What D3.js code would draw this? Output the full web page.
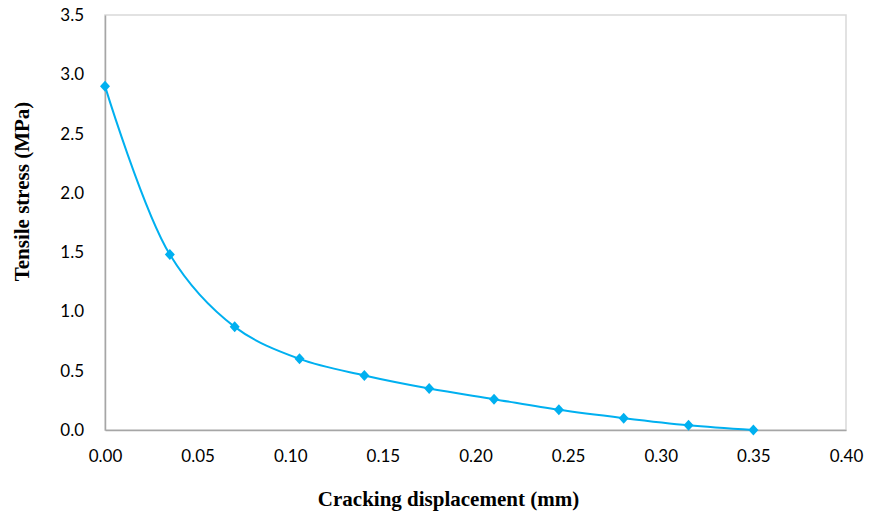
<!DOCTYPE html>
<meta charset="utf-8">
<style>
body { margin: 0; background: #fff; }
.tick text { font-family: Lato, "Open Sans", sans-serif; font-size: 17px; fill: #000; }
.title { font-family: "Liberation Serif", "Times New Roman", serif; font-weight: bold; font-size: 21px; }
.line { fill: none; stroke: #00b0f0; stroke-width: 2px; }
.dot { fill: #00b0f0; }
</style>
<body>
<script src="https://d3js.org/d3.v7.min.js"></script>
<script>
// crack opening vs stress
var displacement = [0, 0.035, 0.07, 0.105, 0.14, 0.175, 0.21, 0.245, 0.28, 0.315, 0.35];
var stress = [2.90, 1.48, 0.87, 0.60, 0.46, 0.35, 0.26, 0.17, 0.10, 0.04, 0.0];
var xTicks = [0, 0.05, 0.10, 0.15, 0.20, 0.25, 0.30, 0.35, 0.40];
var yTicks = [0, 0.5, 1.0, 1.5, 2.0, 2.5, 3.0, 3.5];

var data = displacement.map(function(d, i) { return {x: d, y: stress[i]}; });

var margin = {top: 15, right: 24, bottom: 85, left: 105},
    width = 870 - margin.left - margin.right,
    height = 515 - margin.top - margin.bottom;

var svg = d3.select("body").append("svg")
    .attr("width", 870)
    .attr("height", 515)
  .append("g")
    .attr("transform", "translate(" + margin.left + "," + margin.top + ")");

var x = d3.scaleLinear().domain([0, 0.4]).range([0, width]);
var y = d3.scaleLinear().domain([0, 3.5]).range([height, 0]);

// plot border (top/right light)
svg.append("rect")
    .attr("width", width).attr("height", height)
    .attr("fill", "none").attr("stroke", "#d9d9d9").attr("stroke-width", 1.5);

// x axis
var xAxis = svg.append("g")
    .attr("transform", "translate(0," + height + ")")
    .call(d3.axisBottom(x).tickValues(xTicks).tickSize(0).tickPadding(20).tickFormat(d3.format(".2f")));
xAxis.select(".domain").attr("stroke", "#a6a6a6").attr("stroke-width", 1.5);

// y axis
var yAxis = svg.append("g")
    .call(d3.axisLeft(y).tickValues(yTicks).tickSize(0).tickPadding(21).tickFormat(d3.format(".1f")));
yAxis.select(".domain").attr("stroke", "#a6a6a6").attr("stroke-width", 1.5);

var line = d3.line()
    .x(function(d) { return x(d.x); })
    .y(function(d) { return y(d.y); })
    .curve(d3.curveCatmullRom.alpha(0.5));

svg.append("path")
    .datum(data)
    .attr("class", "line")
    .attr("d", line);

svg.selectAll(".dot")
    .data(data)
  .enter().append("path")
    .attr("class", "dot")
    .attr("d", "M0,-5.5L5,0L0,5.5L-5,0Z")
    .attr("transform", function(d) { return "translate(" + x(d.x) + "," + y(d.y) + ")"; });

// axis titles
svg.append("text")
    .attr("class", "title")
    .attr("x", width / 2 - 27)
    .attr("y", height + 76)
    .attr("text-anchor", "middle")
    .text("Cracking displacement (mm)");

svg.append("text")
    .attr("class", "title")
    .attr("transform", "translate(" + (-76) + "," + (height / 2 - 31) + ") rotate(-90)")
    .attr("text-anchor", "middle")
    .text("Tensile stress (MPa)");
</script>
</body>
